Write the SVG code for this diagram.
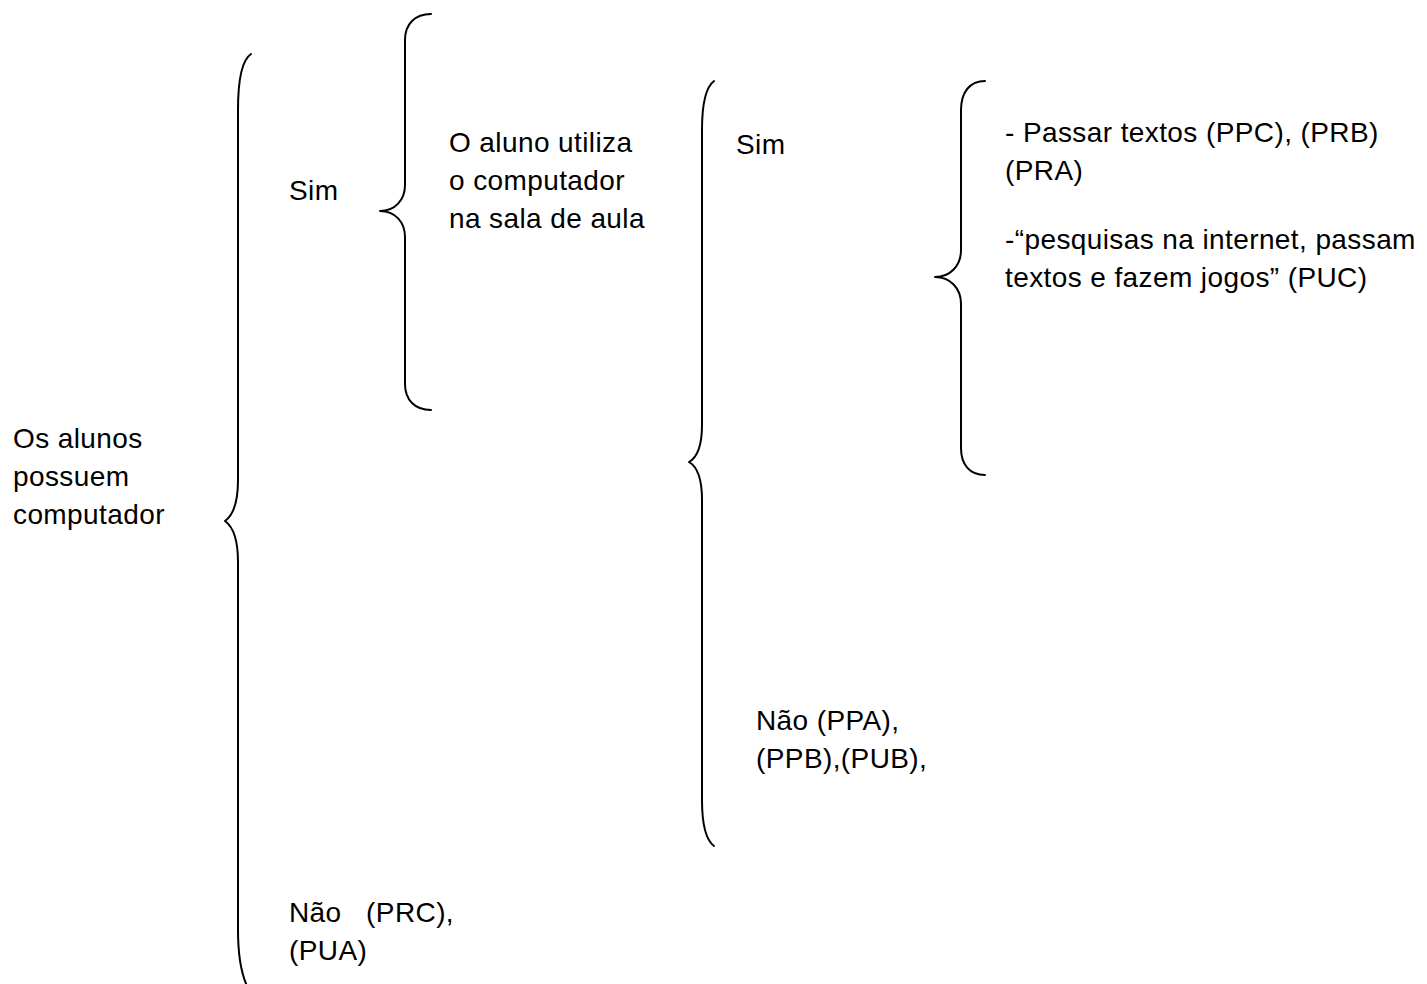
<svg xmlns="http://www.w3.org/2000/svg" width="1427" height="984" viewBox="0 0 1427 984">
  <style>
    .t { font-family: "Liberation Sans", Arial, sans-serif; font-size: 28px; letter-spacing: 0.4px; fill: #000; }
    .brace { fill: none; stroke: #000; stroke-width: 2; stroke-linecap: round; stroke-linejoin: round; }
  </style>
  <rect width="1427" height="984" fill="#fff"/>

  <g id="connectors">
    <path id="brace-root" class="brace" d="M251,54 C242,60 238,80 238,110 L238,480 C238,505 232,516 225,521 C232,526 238,537 238,562 L238,930 C238,960 242,975 247,986"/>
    <path id="brace-usage" class="brace" d="M431,14 C415,14 405,24 405,40 L405,185 C405,200 395,211 380,211 C395,211 405,222 405,237 L405,384 C405,400 415,410 431,410"/>
    <path id="brace-classroom" class="brace" d="M714,81 C706,87 702,105 702,130 L702,425 C702,448 696,458 689,462 C696,466 702,476 702,500 L702,800 C702,825 706,840 714,846"/>
    <path id="brace-activities" class="brace" d="M985,81 C970,81 961,92 961,110 L961,250 C961,266 950,277 935,277 C950,277 961,288 961,304 L961,448 C961,465 970,475 985,475"/>
  </g>

  <g id="node-root">
    <text class="t" x="13" y="448">Os alunos</text>
    <text class="t" x="13" y="486">possuem</text>
    <text class="t" x="13" y="524">computador</text>
  </g>

  <g id="node-sim-1">
    <text class="t" x="289" y="200">Sim</text>
  </g>

  <g id="node-nao-1">
    <text class="t" x="289" y="922" xml:space="preserve">Não   (PRC),</text>
    <text class="t" x="289" y="960">(PUA)</text>
  </g>

  <g id="node-question">
    <text class="t" x="449" y="152">O aluno utiliza</text>
    <text class="t" x="449" y="190">o computador</text>
    <text class="t" x="449" y="228">na sala de aula</text>
  </g>

  <g id="node-sim-2">
    <text class="t" x="736" y="154">Sim</text>
  </g>

  <g id="node-nao-2">
    <text class="t" x="756" y="730">Não (PPA),</text>
    <text class="t" x="756" y="768">(PPB),(PUB),</text>
  </g>

  <g id="node-activities">
    <text class="t" x="1005" y="142">- Passar textos (PPC), (PRB)</text>
    <text class="t" x="1005" y="180">(PRA)</text>
    <text class="t" x="1005" y="249">-“pesquisas na internet, passam</text>
    <text class="t" x="1005" y="287">textos e fazem jogos” (PUC)</text>
  </g>
</svg>
